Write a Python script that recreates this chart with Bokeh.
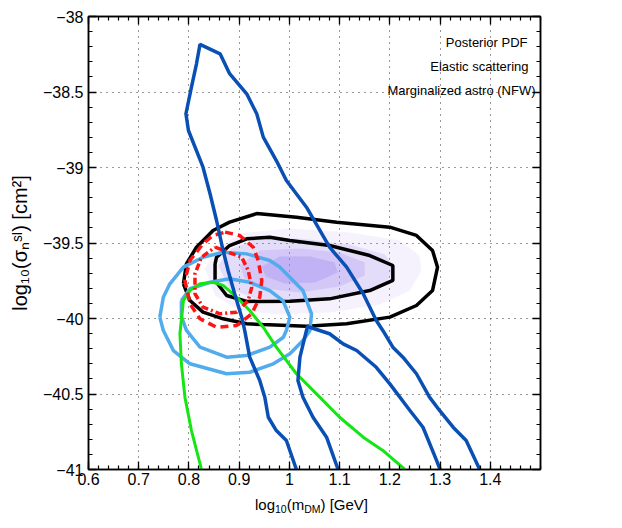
import numpy as np
from bokeh.plotting import figure
from bokeh.layouts import column
from bokeh.models import Label, LinearAxis, FixedTicker, CustomJSTickFormatter
from bokeh.core.properties import value
from bokeh.embed import file_html
from bokeh.resources import INLINE

# ---------------- data (log10 m [GeV], log10 sigma [cm^2]) ----------------
x_ticks = [0.6, 0.7, 0.8, 0.9, 1.0, 1.1, 1.2, 1.3, 1.4]
y_ticks = [-41.0, -40.5, -40.0, -39.5, -39.0, -38.5, -38.0]

# posterior PDF filled levels (outer -> inner)
post1_x = [0.832, 0.852, 0.901, 1.001, 1.120, 1.220, 1.259, 1.263, 1.240, 1.180, 1.080, 0.981, 0.901, 0.852]
post1_y = [-39.669, -39.550, -39.437, -39.404, -39.430, -39.483, -39.583, -39.682, -39.815, -39.907, -39.960, -39.974, -39.947, -39.848]
post2_x = [0.858, 0.885, 0.941, 1.021, 1.120, 1.190, 1.210, 1.190, 1.120, 1.021, 0.931, 0.881]
post2_y = [-39.649, -39.536, -39.470, -39.470, -39.510, -39.576, -39.669, -39.775, -39.854, -39.894, -39.868, -39.801]
post3_x = [0.901, 0.941, 1.021, 1.100, 1.150, 1.150, 1.100, 1.021, 0.951, 0.911]
post3_y = [-39.649, -39.550, -39.536, -39.563, -39.629, -39.715, -39.788, -39.828, -39.801, -39.735]
post4_x = [0.945, 0.981, 1.041, 1.090, 1.096, 1.051, 0.991, 0.953]
post4_y = [-39.656, -39.589, -39.589, -39.629, -39.695, -39.762, -39.768, -39.722]

# black contours
black_outer_x = [0.789, 0.795, 0.815, 0.848, 0.881, 0.935, 1.014, 1.094, 1.200, 1.253, 1.285, 1.295, 1.285, 1.253, 1.200, 1.114, 1.034, 0.947, 0.915, 0.868, 0.828, 0.802]
black_outer_y = [-39.770, -39.638, -39.528, -39.417, -39.362, -39.305, -39.329, -39.362, -39.395, -39.450, -39.550, -39.660, -39.815, -39.914, -39.991, -40.035, -40.051, -40.040, -40.035, -40.002, -39.958, -39.881]
black_inner_x = [0.852, 0.855, 0.881, 0.915, 0.961, 1.001, 1.080, 1.160, 1.206, 1.206, 1.160, 1.080, 1.001, 0.915, 0.875, 0.852]
black_inner_y = [-39.638, -39.594, -39.517, -39.472, -39.462, -39.483, -39.517, -39.583, -39.649, -39.748, -39.815, -39.870, -39.885, -39.887, -39.848, -39.748]

# red contours
red_outer_x = [0.872, 0.901, 0.928, 0.938, 0.945, 0.941, 0.925, 0.895, 0.855, 0.822, 0.802, 0.792, 0.802, 0.828, 0.848]
red_outer_y = [-39.428, -39.450, -39.528, -39.616, -39.748, -39.859, -39.969, -40.046, -40.058, -40.002, -39.903, -39.748, -39.616, -39.505, -39.450]
red_inner_x = [0.852, 0.878, 0.905, 0.918, 0.925, 0.918, 0.895, 0.862, 0.828, 0.812, 0.812, 0.825]
red_inner_y = [-39.528, -39.561, -39.594, -39.682, -39.793, -39.881, -39.958, -39.969, -39.925, -39.836, -39.704, -39.594]

# light blue contours
lblue_outer_x = [0.742, 0.749, 0.762, 0.789, 0.828, 0.868, 0.915, 0.961, 0.981, 1.027, 1.044, 1.041, 1.027, 1.001, 0.968, 0.921, 0.875, 0.802, 0.769, 0.749]
lblue_outer_y = [-39.991, -39.859, -39.770, -39.660, -39.594, -39.561, -39.572, -39.616, -39.660, -39.815, -39.969, -40.079, -40.146, -40.234, -40.300, -40.356, -40.366, -40.300, -40.212, -40.079]
lblue_inner_x = [0.785, 0.802, 0.842, 0.881, 0.921, 0.961, 0.987, 1.001, 0.994, 0.988, 0.961, 0.915, 0.875, 0.822, 0.795, 0.785]
lblue_inner_y = [-39.881, -39.803, -39.760, -39.737, -39.760, -39.815, -39.881, -39.991, -40.079, -40.124, -40.190, -40.245, -40.256, -40.190, -40.079, -39.987]

# green contour (open at the lower edge)
green_x = [0.825, 0.805, 0.792, 0.785, 0.782, 0.789, 0.802, 0.822, 0.848, 0.868, 0.895, 0.921, 0.948, 0.974, 1.014, 1.054, 1.100, 1.147, 1.186, 1.230]
green_y = [-41.0, -40.742, -40.521, -40.300, -40.101, -39.881, -39.815, -39.770, -39.760, -39.781, -39.859, -39.947, -40.058, -40.190, -40.366, -40.499, -40.654, -40.786, -40.874, -41.0]

# dark blue contours (open at the lower edge)
dblue_outer_x = [1.014, 0.994, 0.974, 0.958, 0.951, 0.941, 0.921, 0.911, 0.905, 0.891, 0.878, 0.868, 0.855, 0.842, 0.828, 0.799, 0.794, 0.805, 0.815, 0.822,
                 0.862, 0.881, 0.915, 0.935, 0.948, 0.974, 0.994, 1.034, 1.080, 1.114, 1.147, 1.173, 1.186, 1.206, 1.226, 1.253, 1.279, 1.299, 1.326, 1.352, 1.379]
dblue_outer_y = [-41.0, -40.808, -40.742, -40.654, -40.521, -40.411, -40.256, -40.079, -39.991, -39.836, -39.682, -39.550, -39.351, -39.174, -38.998, -38.755, -38.644, -38.468, -38.313, -38.185,
                 -38.247, -38.379, -38.512, -38.644, -38.799, -38.954, -39.086, -39.263, -39.528, -39.660, -39.836, -40.013, -40.079, -40.190, -40.256, -40.366, -40.521, -40.609, -40.720, -40.808, -41.0]
dblue_inner_x = [1.097, 1.074, 1.047, 1.027, 1.017, 1.021, 1.034, 1.036, 1.080, 1.107, 1.134, 1.173, 1.200, 1.240, 1.266, 1.293, 1.300]
dblue_inner_y = [-41.0, -40.786, -40.654, -40.521, -40.411, -40.256, -40.079, -40.053, -40.101, -40.168, -40.212, -40.323, -40.433, -40.609, -40.720, -40.940, -41.0]

legend_lines = ["Posterior PDF", "Elastic scattering", "Marginalized astro (NFW)"]
xlabel_parts = ["log", "10", "(m", "DM", ") [GeV]"]
ylabel_text = "log\u2081\u2080(\u03c3\u2099\u02e2\u1d35) [cm\u00b2]"

FONT = "Liberation Sans"
LEFT, FW, FH, RIGHT, TOP, BOTTOM = 88, 452, 453, 20, 16, 21

# ---------------- main figure ----------------
p = figure(frame_width=FW, frame_height=FH, x_range=(0.6, 1.5), y_range=(-41, -38),
           output_backend="svg", toolbar_location=None,
           min_border_left=LEFT, min_border_right=RIGHT, min_border_top=TOP, min_border_bottom=BOTTOM)
p.background_fill_color = "white"
p.border_fill_color = "white"
p.outline_line_color = "black"
p.outline_line_width = 1.5

xminor = [round(v, 2) for v in np.arange(0.6, 1.5001, 0.02)]
yminor = [round(v, 2) for v in np.arange(-41.0, -37.9999, 0.1)]
xt = FixedTicker(ticks=x_ticks, minor_ticks=xminor)
yt = FixedTicker(ticks=y_ticks, minor_ticks=yminor)
fmt = CustomJSTickFormatter(code="return tick.toString().replace('-', '\u2212');")
blank = CustomJSTickFormatter(code="return '';")

def style_axis(ax, show, standoff=5):
    ax.axis_line_color = "black"
    ax.axis_line_width = 1.5
    ax.major_tick_in = 8
    ax.major_tick_out = 0
    ax.minor_tick_in = 4
    ax.minor_tick_out = 0
    ax.major_tick_line_width = 1.3
    ax.minor_tick_line_width = 1.2
    ax.major_tick_line_color = "black"
    ax.minor_tick_line_color = "black"
    if show:
        ax.major_label_text_font = FONT
        ax.major_label_text_font_size = "16px"
        ax.major_label_text_color = "black"
        ax.major_label_standoff = standoff
    else:
        ax.major_label_text_font_size = "0px"
        ax.major_label_standoff = 0

p.xaxis.ticker = xt
p.yaxis.ticker = yt
p.xaxis.formatter = fmt
p.yaxis.formatter = fmt
for ax in p.xaxis:
    style_axis(ax, True, 3)
for ax in p.yaxis:
    style_axis(ax, True, 5)

p.yaxis.axis_label = ylabel_text
p.yaxis.axis_label_text_font = FONT
p.yaxis.axis_label_text_font_size = "20px"
p.yaxis.axis_label_text_font_style = "normal"
p.yaxis.axis_label_text_color = "black"
p.yaxis.axis_label_standoff = 9

top = LinearAxis(ticker=xt, formatter=blank)
right = LinearAxis(ticker=yt, formatter=blank)
style_axis(top, False)
style_axis(right, False)
p.add_layout(top, "above")
p.add_layout(right, "right")

p.xgrid.ticker = xt
p.ygrid.ticker = yt
p.grid.grid_line_color = "#333333"
p.grid.grid_line_dash = "1 5"
p.grid.grid_line_width = 1

purple = "#8c73eb"
for xs, ys, a in [(post1_x, post1_y, 0.09), (post2_x, post2_y, 0.16),
                  (post3_x, post3_y, 0.2), (post4_x, post4_y, 0.25)]:
    p.patch(xs, ys, fill_color=purple, fill_alpha=a, line_color=None)

def closed(a):
    return list(a) + [a[0]]

p.line(closed(black_outer_x), closed(black_outer_y), line_color="black", line_width=3.5)
p.line(closed(black_inner_x), closed(black_inner_y), line_color="black", line_width=3.5)
lb = "#50acec"
p.line(closed(lblue_outer_x), closed(lblue_outer_y), line_color=lb, line_width=3.5)
p.line(closed(lblue_inner_x), closed(lblue_inner_y), line_color=lb, line_width=3.5)
p.line(green_x, green_y, line_color="#14e614", line_width=3)
p.line(closed(red_outer_x), closed(red_outer_y), line_color="#ff1414", line_width=3.5, line_dash="8 5")
p.line(closed(red_inner_x), closed(red_inner_y), line_color="#ff1414", line_width=3.5, line_dash="7 3 2 3")
db = "#0a50b4"
p.line(dblue_outer_x, dblue_outer_y, line_color=db, line_width=3.5)
p.line(dblue_inner_x, dblue_inner_y, line_color=db, line_width=3.5)

for txt, xr, yb in zip(legend_lines, [439, 440, 447], [427, 403, 379]):
    p.add_layout(Label(x=xr, y=yb, x_units="screen", y_units="screen", text=txt,
                       text_font=FONT, text_font_size="13px", text_align="right",
                       text_baseline="alphabetic", text_color="black"))

# ---------------- x-label strip: same frame geometry as the plot, pixel units ----------------
xl = figure(frame_width=FW, frame_height=35, x_range=(LEFT, LEFT + FW), y_range=(0, 35),
            output_backend="svg", toolbar_location=None,
            x_axis_location=None, y_axis_location=None,
            min_border_left=LEFT, min_border_right=RIGHT,
            min_border_top=0, min_border_bottom=0)
xl.grid.visible = False
xl.outline_line_color = None
xl.background_fill_color = None
xl.border_fill_color = None

xs_pos = [254.5, 274.5, 286.2, 303.7, 320.0]
xs_size = ["15px", "10.5px", "15px", "10.5px", "15px"]
xs_y = [21, 17, 21, 17, 21]
for t, x, s, y in zip(xlabel_parts, xs_pos, xs_size, xs_y):
    xl.text(x=[x], y=[y], text=[t], text_font=value(FONT), text_font_size=s,
            text_align="left", text_baseline="alphabetic", text_color="black")

layout = column(p, xl)
open("out.html", "w").write(file_html(layout, INLINE))
